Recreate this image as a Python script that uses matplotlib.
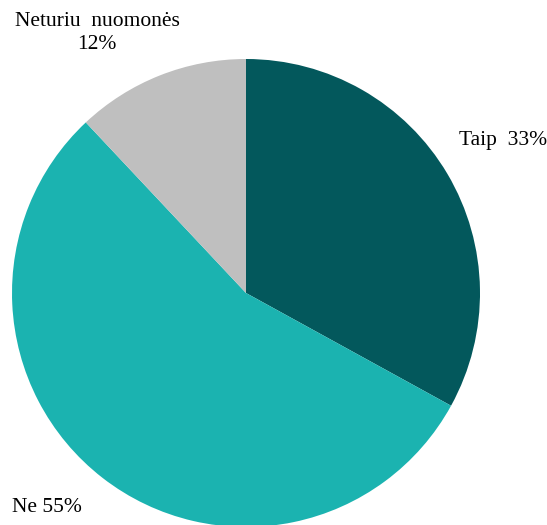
import matplotlib
matplotlib.use("Agg")
import matplotlib.pyplot as plt

labels = ["Taip", "Ne", "Neturiu  nuomonės"]
values = [33, 55, 12]
colors = ["#03585C", "#1BB3B0", "#BFBFBF"]

W, H = 547, 525
cx, cy, R = 246, 293, 234

fig = plt.figure(figsize=(W / 100, H / 100), dpi=100)
ax = fig.add_axes([0, 0, 1, 1])
ax.pie(values, colors=colors, startangle=90, counterclock=False,
       radius=1, center=(0, 0), wedgeprops=dict(linewidth=0))
ax.set_aspect("auto")
ax.set_xlim(-cx / R, (W - cx) / R)
ax.set_ylim(-(H - cy) / R, cy / R)
ax.axis("off")

def px(x, y):
    return (x - cx) / R, (cy - y) / R

font = dict(family="Liberation Serif", fontsize=15.5, color="#000000")
ax.text(*px(503, 141), f"{labels[0]}  {values[0]}%", ha="center", va="center", **font)
ax.text(*px(47, 507), f"{labels[1]} {values[1]}%", ha="center", va="center", **font)
ax.text(*px(97, 33), f"{labels[2]}\n{values[2]}%", ha="center", va="center",
        linespacing=1.3, **font)

fig.savefig("out.png", dpi=100)
